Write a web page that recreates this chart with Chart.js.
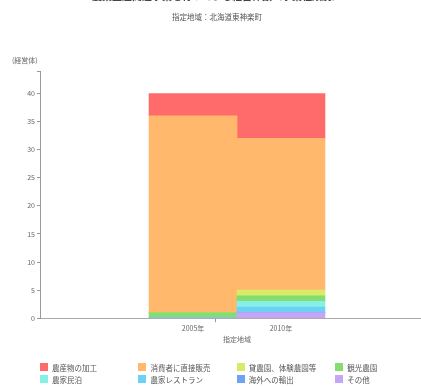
<!DOCTYPE html>
<html>
<head>
<meta charset="utf-8">
<script src="https://cdn.jsdelivr.net/npm/chart.js@4.4.1/dist/chart.umd.min.js"></script>
<style>
  html, body { margin: 0; padding: 0; background: #fff; overflow: hidden; }
  #wrap { position: relative; width: 421px; height: 387px; overflow: hidden; }
  #chart { position: absolute; left: 0; top: -10px; }
  #legend { position: absolute; left: 0; top: 0; width: 474px; height: 387px; pointer-events: none; }
  .item { position: absolute; font: 7.5px "Noto Sans CJK JP", sans-serif; color: #555; white-space: nowrap; line-height: 9px; }
  .item span { display: inline-block; width: 8px; height: 8px; vertical-align: top; margin-right: 4px; }
</style>
</head>
<body>
<div id="wrap">
  <canvas id="chart" width="474" height="354"></canvas>
  <div id="legend"></div>
</div>
<script>
//Years on the x axis
const years = [2005, 2010];

//Business types (legend order)
const categories = [
    '農産物の加工',
    '消費者に直接販売',
    '貸農園、体験農園等',
    '観光農園',
    '農家民泊',
    '農家レストラン',
    '海外への輸出',
    'その他'
];

//Number of farm businesses per type, 2005 / 2010
const processing = [4, 8];
const directSales = [35, 27];
const rentalFarm = [0, 1];
const touristFarm = [1, 1];
const farmStay = [0, 1];
const restaurant = [0, 1];
const exportsAbroad = [0, 0];
const others = [0, 1];

const series = [processing, directSales, rentalFarm, touristFarm, farmStay, restaurant, exportsAbroad, others];

const colours = [
    '#ff6b6b',
    '#ffb86c',
    '#d9ea66',
    '#85dd6f',
    '#85f0e6',
    '#6fd0f5',
    '#6ea2f5',
    '#c4a6f7'
];

const font = "'Noto Sans CJK JP', sans-serif";
Chart.defaults.font.family = font;
Chart.defaults.color = '#666';

//Stack bottom-up, so first legend entry ends on top
var datasets = [];
for (var i = series.length - 1; i >= 0; i--) {
    datasets.push({
        label: categories[i],
        backgroundColor: colours[i],
        borderWidth: 0,
        barThickness: 88,
        data: years.map((y, k) => ({ x: y, y: series[i][k] }))
    });
}

//Y axis unit label
const unitLabel = {
    id: 'unitLabel',
    afterDraw(chart) {
        const ctx = chart.ctx;
        ctx.save();
        ctx.font = '7px ' + font;
        ctx.fillStyle = '#666';
        ctx.textAlign = 'left';
        ctx.textBaseline = 'middle';
        ctx.fillText('(経営体)', 12, chart.chartArea.top - 11);
        ctx.restore();
    }
};

new Chart(document.getElementById('chart'), {
    type: 'bar',
    data: { datasets: datasets },
    plugins: [unitLabel],
    options: {
        responsive: false,
        animation: false,
        layout: { padding: { left: 0, right: 40, top: 0, bottom: 0 } },
        plugins: {
            legend: { display: false },
            tooltip: { enabled: false },
            title: {
                display: true,
                text: '農業生産関連事業を行っている経営体数（事業種類別）',
                color: '#444',
                font: { size: 10, weight: 'bold' },
                padding: { top: 0, bottom: 10.5 }
            },
            subtitle: {
                display: true,
                text: '指定地域：北海道東神楽町',
                color: '#555',
                font: { size: 7.5 },
                padding: { top: 0, bottom: 49.5 }
            }
        },
        scales: {
            x: {
                type: 'linear',
                stacked: true,
                offset: false,
                min: 1996.3,
                max: 2018.7,
                afterBuildTicks(s) {
                    s.ticks = [{ value: 2005 }, { value: 2007.5 }, { value: 2010 }];
                },
                ticks: {
                    font: { size: 7 },
                    padding: 2,
                    maxRotation: 0,
                    autoSkip: false,
                    callback: v => (v === 2007.5 ? '' : v + '年')
                },
                grid: {
                    drawOnChartArea: false,
                    tickLength: 4,
                    color: c => (c.tick && c.tick.value === 2007.5 ? '#999' : 'rgba(0,0,0,0)')
                },
                border: { color: '#aaa', width: 1 },
                title: {
                    display: true,
                    text: '指定地域',
                    font: { size: 7 },
                    padding: { top: 1, bottom: 0 }
                }
            },
            y: {
                stacked: true,
                min: 0,
                max: 44,
                afterFit(s) { s.width = 40; },
                ticks: {
                    stepSize: 5,
                    font: { size: 7 },
                    padding: 2,
                    callback: v => (v % 5 === 0 ? v : '')
                },
                grid: { drawOnChartArea: false, tickLength: 3, color: '#999' },
                border: { color: '#999', width: 1 }
            }
        }
    }
});

//Legend in four columns
var legend = document.getElementById('legend');
for (var i = 0; i < categories.length; i++) {
    var item = document.createElement('div');
    item.className = 'item';
    item.style.left = (40 + (i % 4) * 98.4) + 'px';
    item.style.top = (363 + Math.floor(i / 4) * 11.5) + 'px';
    item.innerHTML = '<span style="background:' + colours[i] + '"></span>' + categories[i];
    legend.appendChild(item);
}
</script>
</body>
</html>
